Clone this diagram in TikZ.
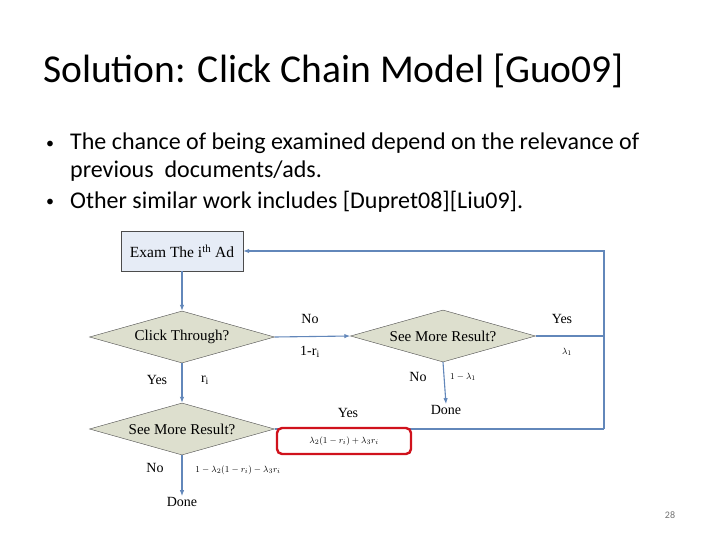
\documentclass[tikz,border=0pt]{standalone}
\usepackage{amsmath}
\usepackage{fontspec}
\setmainfont{Carlito}
\newfontfamily\flowfont{Liberation Serif}
\usepackage{tikz}
\usetikzlibrary{shapes.geometric,arrows.meta,positioning,calc}

\definecolor{flowblue}{RGB}{98,135,186}
\definecolor{diafill}{RGB}{221,223,206}
\definecolor{boxfill}{RGB}{230,236,246}
\definecolor{markred}{RGB}{208,18,28}

\tikzset{
  decision/.style={diamond, aspect=3.6, draw=black!70, fill=diafill, inner sep=0pt,
    minimum width=185pt, minimum height=52pt, font=\flowfont\fontsize{15}{17}\selectfont},
  adbox/.style={rectangle, draw=black!70, fill=boxfill, minimum width=122pt,
    minimum height=40pt, font=\flowfont\fontsize{15.5}{17}\selectfont},
  flow/.style={draw=flowblue, line width=1.1pt},
  flowarr/.style={flow, -{Latex[length=6pt,width=4.5pt]}},
  lbl/.style={font=\flowfont\fontsize{14}{16}\selectfont, inner sep=1pt},
  prob/.style={font=\fontsize{9.5}{11}\selectfont, inner sep=1pt},
  slidetext/.style={anchor=base west, inner sep=0pt, font=\fontsize{24}{28}\selectfont}
}

\begin{document}
\begin{tikzpicture}[x=1pt,y=-1pt]
    \useasboundingbox[fill=white] (0,0) rectangle (720,540);

    % title and bullets
    \node[anchor=base west, inner sep=0pt, font=\fontsize{39.5}{46}\selectfont] (title) at (43,83) {Solution: Click Chain Model [Guo09]};
    \node[slidetext, font=\fontsize{16}{20}\selectfont] (b1) at (46,149) {\textbullet};
    \node[slidetext] (t1) at (70,150) {The chance of being examined depend on the relevance of};
    \node[slidetext] (t2) at (70,178) {previous\ \ documents/ads.};
    \node[slidetext, font=\fontsize{16}{20}\selectfont] (b2) at (46,207) {\textbullet};
    \node[slidetext] (t3) at (70,208) {Other similar work includes [Dupret08][Liu09].};

    % flow chart
    \node[adbox] (exam) at (182,251) {Exam The i\textsuperscript{th} Ad};
    \node[decision] (click) at (182,337) {Click Through?};
    \node[decision] (more2) at (443,336) {See More Result?};
    \node[decision] (more1) at (182,429) {See More Result?};
    \node[lbl] (done2) at (446,410) {Done};
    \node[lbl] (done1) at (182,502) {Done};
    \coordinate (rtop) at (604,251);
    \coordinate (rmid) at (604,336);
    \coordinate (rbot) at (604,429);

    \draw[flowarr] (exam.south) -- (click.north);
    \draw[flowarr] (click.east) -- (more2.west);
    \draw[flowarr] (click.south) -- (more1.north);
    \draw[flowarr] (more2.south) -- (done2.north);
    \draw[flowarr] (more1.south) -- (done1.north);
    \draw[flow] (more2.east) -- (rmid);
    \draw[flow] (more1.east) -- (rbot);
    \draw[flowarr] (rbot) -- (rtop) -- (exam.east);

    % labels
    \node[lbl] (no1) at (310,319) {No};
    \node[lbl] (p1) at (310,352) {1-r\textsubscript{i}};
    \node[lbl] (yes1) at (562,319) {Yes};
    \node[prob] (p2) at (567,352) {$\lambda_1$};
    \node[lbl] (no2) at (418,377) {No};
    \node[prob] (p3) at (463,377) {$1-\lambda_1$};
    \node[lbl] (yes2) at (157,380) {Yes};
    \node[lbl] (p4) at (205,380) {r\textsubscript{i}};
    \node[lbl] (yes3) at (348,413) {Yes};
    \node[lbl] (no3) at (155,468) {No};
    \node[prob] (p5) at (238,470) {$1-\lambda_2(1-r_i)-\lambda_3r_i$};
    \node[draw=markred, line width=2.4pt, rounded corners=5pt, fill=white,
      minimum width=134pt, minimum height=26pt, prob] (mark) at (344,441) {$\lambda_2(1-r_i)+\lambda_3r_i$};

    % page number
    \node[font=\fontsize{10}{12}\selectfont, text=black!55] (page) at (670,515) {28};
\end{tikzpicture}
\end{document}
